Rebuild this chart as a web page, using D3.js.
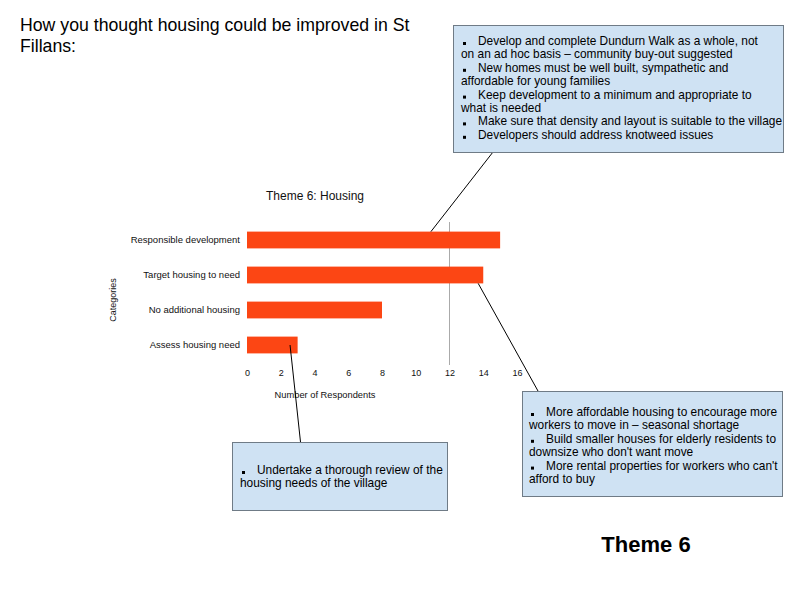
<!DOCTYPE html>
<html><head><meta charset="utf-8">
<script src="https://cdn.jsdelivr.net/npm/d3@7"></script>
<style>
body{margin:0;background:#fff;}
svg{display:block;font-family:"Liberation Sans",Arial,sans-serif;}
</style></head>
<body><svg id="c" width="794" height="595"></svg>
<script>
const pageTitle = ["How you thought housing could be improved in St", "Fillans:"];
const chartTitle = "Theme 6: Housing";
const categories = ["Responsible development", "Target housing to need", "No additional housing", "Assess housing need"];
const values = [15, 14, 8, 3];
const ticks = [0, 2, 4, 6, 8, 10, 12, 14, 16];
const gridValues = [12];
const xTitle = "Number of Respondents";
const yTitle = "Categories";
const footer = "Theme 6";
// callout texts: each line {b: starts with bullet, t: text}
const note1 = [
  {b:true, t:"Develop and complete Dundurn Walk as a whole, not"},
  {b:false,t:"on an ad hoc basis \u2013 community buy-out suggested"},
  {b:true, t:"New homes must be well built, sympathetic and"},
  {b:false,t:"affordable for young families"},
  {b:true, t:"Keep development to a minimum and appropriate to"},
  {b:false,t:"what is needed"},
  {b:true, t:"Make sure that density and layout is suitable to the village"},
  {b:true, t:"Developers should address knotweed issues"}
];
const note2 = [
  {b:true, t:"More affordable housing to encourage more"},
  {b:false,t:"workers to move in \u2013 seasonal shortage"},
  {b:true, t:"Build smaller houses for elderly residents to"},
  {b:false,t:"downsize who don't want move"},
  {b:true, t:"More rental properties for workers who can't"},
  {b:false,t:"afford to buy"}
];
const note3 = [
  {b:true, t:"Undertake a thorough review of the"},
  {b:false,t:"housing needs of the village"}
];

const svg = d3.select("#c");
const x = d3.scaleLinear().domain([0, 16]).range([247, 517]);
const y = d3.scaleBand().domain(categories).range([222.5, 362.5]).paddingInner(0.52).paddingOuter(0.26);

// page title
svg.append("text").attr("x", 20).attr("font-size", 17.7).attr("fill", "#000")
  .selectAll("tspan").data(pageTitle).join("tspan")
  .attr("x", 20).attr("y", (d, i) => 31 + i * 21).text(d => d);

// chart title
svg.append("text").attr("x", 315).attr("y", 200).attr("text-anchor", "middle")
  .attr("font-size", 12).attr("fill", "#111").text(chartTitle);

// grid line
svg.selectAll(".grid").data(gridValues).join("line").attr("class", "grid")
  .attr("x1", d => x(d)).attr("x2", d => x(d)).attr("y1", 222).attr("y2", 365)
  .attr("stroke", "#aaaaaa").attr("stroke-width", 1);

// bars
svg.selectAll(".bar").data(values).join("rect").attr("class", "bar")
  .attr("x", x(0)).attr("y", (d, i) => y(categories[i]))
  .attr("width", d => x(d) - x(0)).attr("height", y.bandwidth())
  .attr("fill", "#fc4614");

// y axis labels
const yAxis = d3.axisLeft(y).tickSize(0).tickPadding(7);
const gy = svg.append("g").attr("transform", `translate(${x(0)},0)`).call(yAxis);
gy.select(".domain").remove();
gy.selectAll("text").attr("font-size", 9.5).attr("fill", "#111").attr("font-family", "Liberation Sans, Arial, sans-serif");

// x axis
const xAxis = d3.axisBottom(x).tickValues(ticks).tickSize(0).tickPadding(0).tickFormat(d3.format("d"));
const gx = svg.append("g").attr("transform", `translate(0,370)`).call(xAxis);
gx.select(".domain").remove();
gx.selectAll("text").attr("font-size", 9).attr("fill", "#111").attr("font-family", "Liberation Sans, Arial, sans-serif");

svg.append("text").attr("x", 325).attr("y", 398).attr("text-anchor", "middle")
  .attr("font-size", 9.3).attr("fill", "#111").text(xTitle);
svg.append("text").attr("transform", "translate(116,300) rotate(-90)").attr("text-anchor", "middle")
  .attr("font-size", 9).attr("fill", "#111").text(yTitle);

// callout connectors (anchored to data positions)
const connectors = [
  {x1: 493, y1: 152, x2: x(10.9), y2: y(categories[0])},
  {x1: 538, y1: 391, x2: x(13.7), y2: y(categories[1]) + y.bandwidth()},
  {x1: 300.5, y1: 442, x2: x(2.55), y2: y(categories[3]) + y.bandwidth() / 2}
];
svg.selectAll(".conn").data(connectors).join("line").attr("class", "conn")
  .attr("x1", d => d.x1).attr("y1", d => d.y1).attr("x2", d => d.x2).attr("y2", d => d.y2)
  .attr("stroke", "#000").attr("stroke-width", 1);

function callout(bx, by, bw, bh, lines, tx, ty0, lh) {
  svg.append("rect").attr("x", bx + 0.5).attr("y", by + 0.5).attr("width", bw).attr("height", bh)
    .attr("fill", "#cfe2f3").attr("stroke", "#6f7b86").attr("stroke-width", 1);
  lines.forEach((l, i) => {
    const yy = ty0 + i * lh;
    if (l.b) {
      svg.append("rect").attr("x", tx + 2).attr("y", yy - 3).attr("width", 3).attr("height", 3).attr("fill", "#000");
      svg.append("text").attr("x", tx + 17).attr("y", yy).attr("font-size", 11.9).attr("fill", "#000").text(l.t);
    } else {
      svg.append("text").attr("x", tx).attr("y", yy).attr("font-size", 11.9).attr("fill", "#000").text(l.t);
    }
  });
}
callout(453, 25, 330, 127, note1, 461, 45, 13.4);
callout(522, 391, 260, 105, note2, 529, 416, 13.4);
callout(232, 442, 215, 68, note3, 240, 474, 13.4);

svg.append("text").attr("x", 646).attr("y", 552).attr("text-anchor", "middle")
  .attr("font-size", 22).attr("font-weight", "bold").attr("fill", "#000").text(footer);
</script></body></html>
